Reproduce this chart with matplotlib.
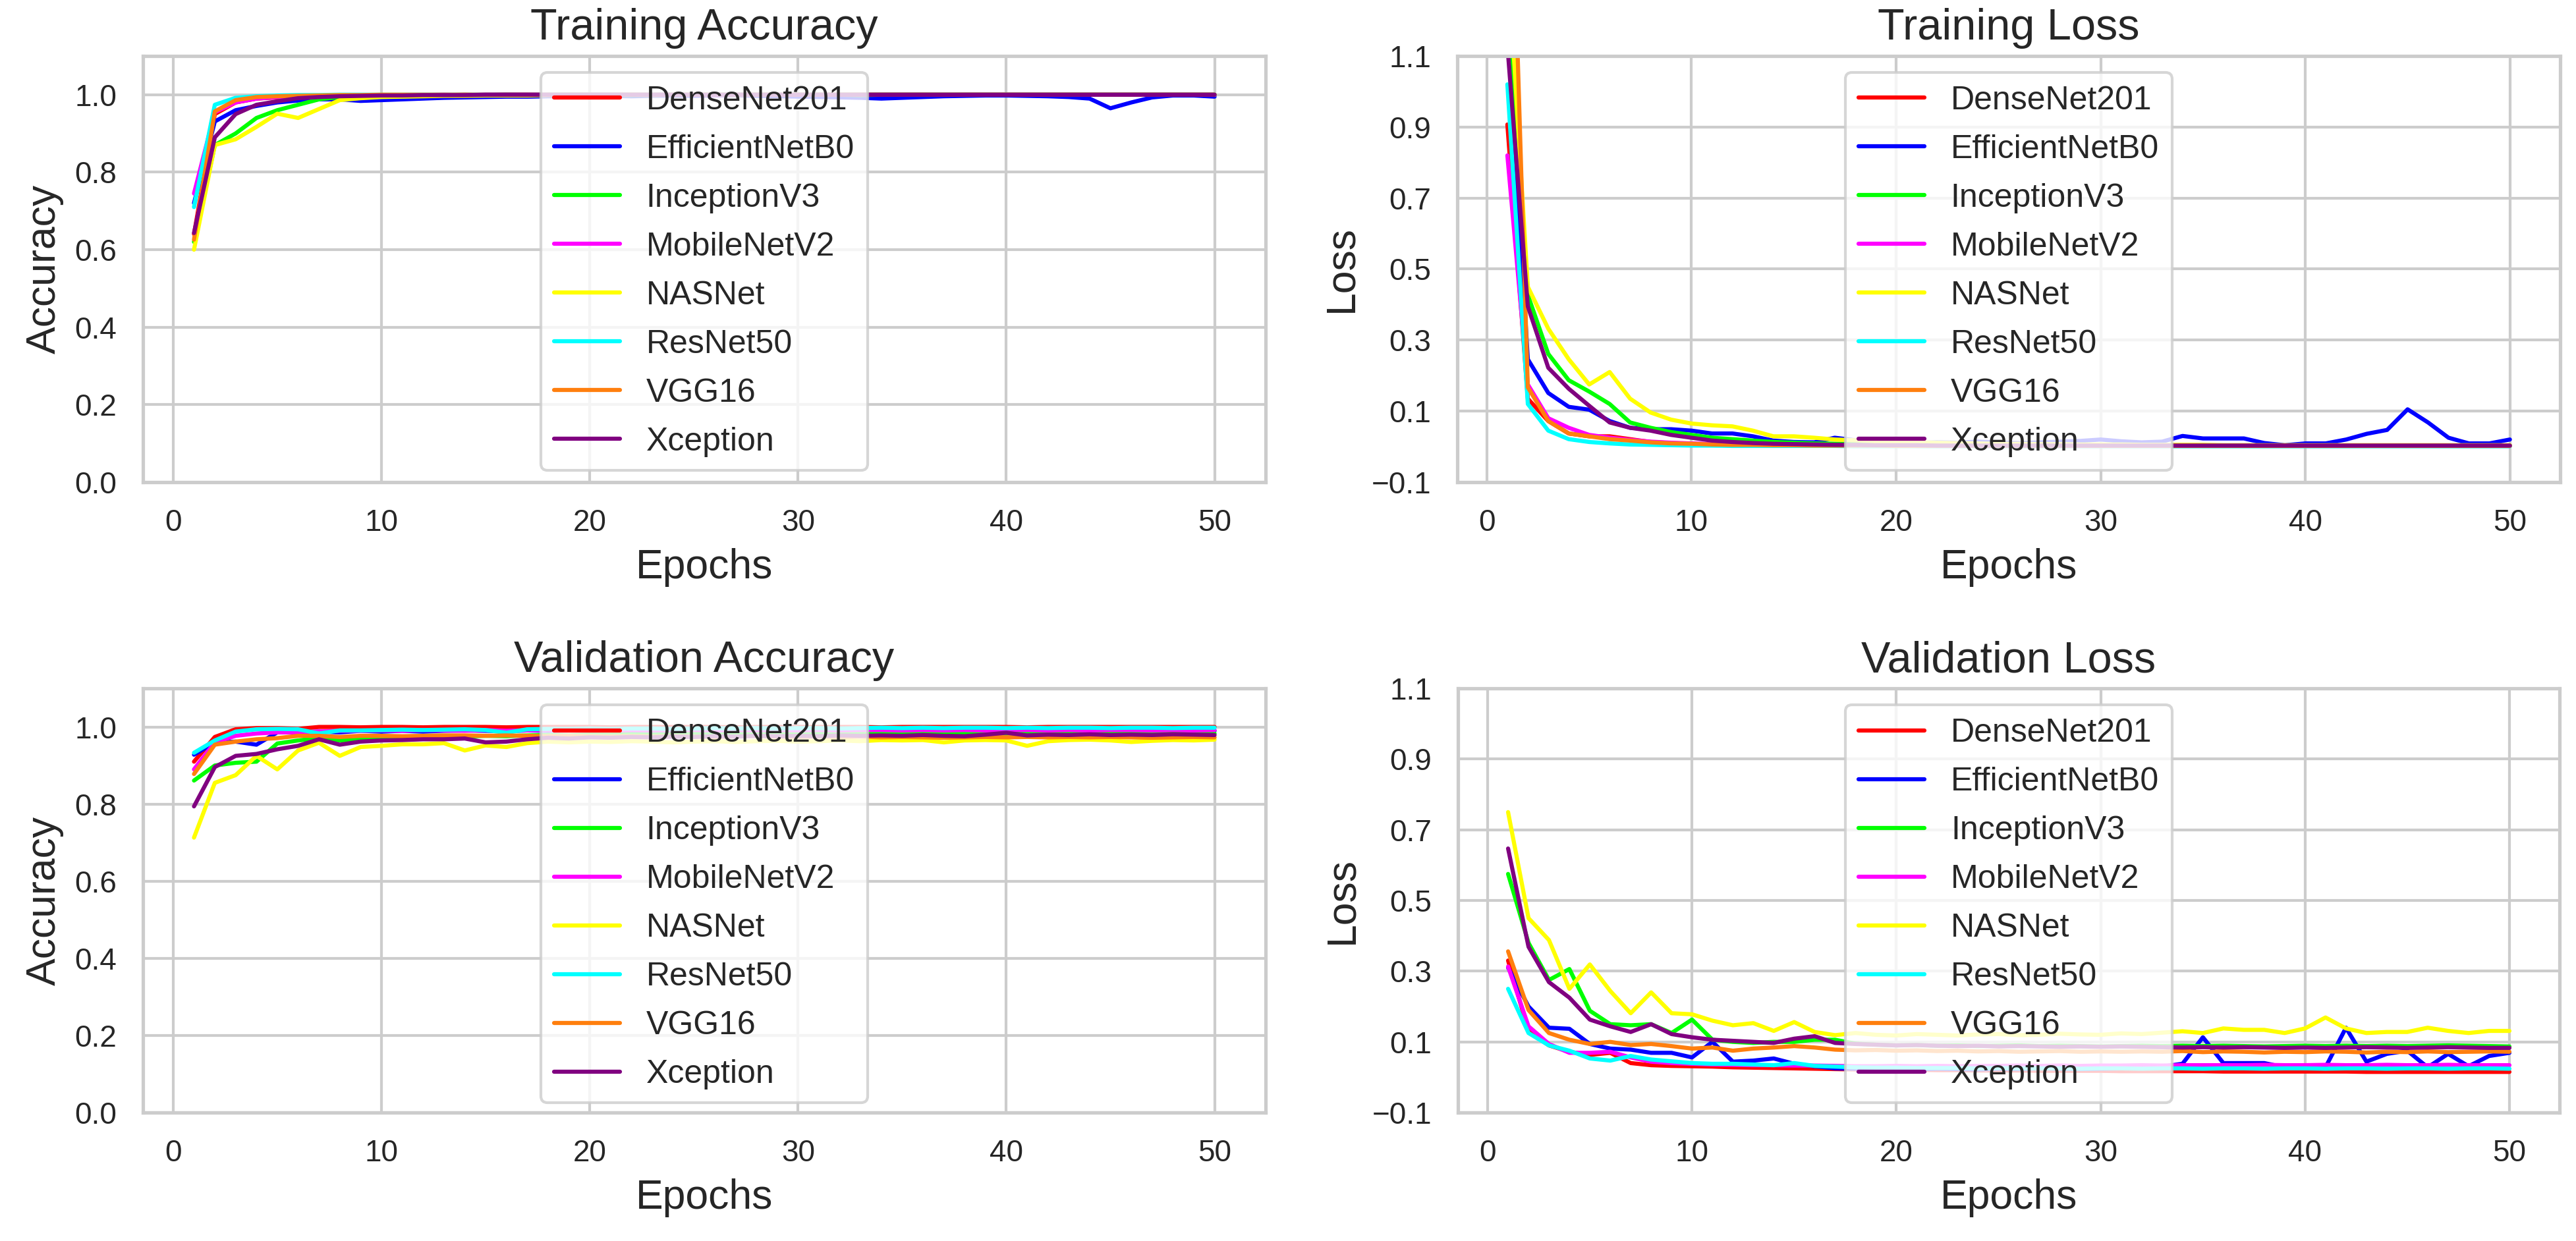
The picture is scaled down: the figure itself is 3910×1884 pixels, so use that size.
# [1] 라이브러리
import matplotlib
matplotlib.use('Agg')
import matplotlib.pyplot as plt
import seaborn as sns

# [2] 데이터 : 8개 모델 , 50 epoch
epochs = list(range(1, 51))
models = ['DenseNet201', 'EfficientNetB0', 'InceptionV3', 'MobileNetV2',
          'NASNet', 'ResNet50', 'VGG16', 'Xception']
colors = ['#ff0000', '#0000ff', '#00ff00', '#ff00ff',
          '#ffff00', '#00ffff', '#ff7f0e', '#800080']

# Training Accuracy
ta_densenet = [0.640, 0.950, 0.980, 0.990, 0.993, 0.995, 0.996, 0.997, 0.998, 0.998,
               0.999, 0.999, 0.999, 1.000, 0.999, 1.000, 1.000, 0.999, 1.000, 1.000,
               1.000, 1.000, 0.999, 1.000, 1.000, 1.000, 1.000, 1.000, 0.999, 1.000,
               1.000, 1.000, 1.000, 1.000, 1.000, 1.000, 0.999, 1.000, 1.000, 1.000,
               1.000, 1.000, 1.000, 1.000, 1.000, 1.000, 1.000, 1.000, 1.000, 1.000]
ta_effnet = [0.720, 0.931, 0.960, 0.971, 0.980, 0.985, 0.988, 0.988, 0.984, 0.986,
             0.988, 0.990, 0.992, 0.993, 0.994, 0.995, 0.995, 0.996, 0.996, 0.997,
             0.997, 0.996, 0.997, 0.998, 0.997, 0.998, 0.998, 0.997, 0.996, 0.995,
             0.994, 0.993, 0.992, 0.990, 0.992, 0.994, 0.996, 0.997, 0.998, 0.998,
             0.997, 0.996, 0.994, 0.990, 0.965, 0.980, 0.993, 0.998, 0.998, 0.995]
ta_inception = [0.620, 0.870, 0.900, 0.940, 0.960, 0.974, 0.988, 0.994, 0.996, 0.997,
                0.998, 0.998, 0.999, 0.999, 0.999, 1.000, 0.999, 1.000, 1.000, 1.000,
                1.000, 0.999, 1.000, 1.000, 1.000, 1.000, 1.000, 1.000, 1.000, 1.000,
                1.000, 1.000, 0.999, 1.000, 1.000, 1.000, 1.000, 1.000, 1.000, 1.000,
                1.000, 1.000, 1.000, 1.000, 1.000, 1.000, 1.000, 1.000, 1.000, 1.000]
ta_mobilenet = [0.745, 0.955, 0.980, 0.990, 0.994, 0.996, 0.997, 0.998, 0.998, 0.999,
                0.999, 0.999, 1.000, 0.999, 1.000, 1.000, 1.000, 1.000, 0.999, 1.000,
                1.000, 1.000, 1.000, 1.000, 1.000, 0.999, 1.000, 1.000, 1.000, 1.000,
                1.000, 1.000, 1.000, 1.000, 1.000, 1.000, 1.000, 1.000, 1.000, 1.000,
                1.000, 1.000, 1.000, 1.000, 1.000, 1.000, 1.000, 1.000, 1.000, 1.000]
ta_nasnet = [0.600, 0.870, 0.885, 0.917, 0.951, 0.940, 0.963, 0.986, 0.991, 0.994,
             0.995, 0.996, 0.997, 0.997, 0.998, 0.998, 0.998, 0.999, 0.999, 0.999,
             0.999, 1.000, 0.999, 1.000, 1.000, 1.000, 0.999, 1.000, 1.000, 1.000,
             1.000, 1.000, 1.000, 1.000, 1.000, 1.000, 1.000, 1.000, 1.000, 1.000,
             1.000, 1.000, 1.000, 1.000, 1.000, 1.000, 1.000, 1.000, 1.000, 1.000]
ta_resnet = [0.710, 0.974, 0.992, 0.996, 0.998, 0.999, 0.999, 1.000, 1.000, 1.000,
             1.000, 1.000, 1.000, 1.000, 1.000, 1.000, 1.000, 1.000, 1.000, 1.000,
             1.000, 1.000, 1.000, 1.000, 1.000, 1.000, 1.000, 1.000, 1.000, 1.000,
             1.000, 1.000, 1.000, 1.000, 1.000, 1.000, 1.000, 1.000, 1.000, 1.000,
             1.000, 1.000, 1.000, 1.000, 1.000, 1.000, 1.000, 1.000, 1.000, 1.000]
ta_vgg = [0.626, 0.957, 0.986, 0.994, 0.996, 0.997, 0.998, 0.999, 0.999, 1.000,
          1.000, 1.000, 1.000, 1.000, 1.000, 1.000, 1.000, 1.000, 1.000, 1.000,
          1.000, 1.000, 1.000, 1.000, 1.000, 1.000, 1.000, 1.000, 1.000, 1.000,
          1.000, 1.000, 1.000, 1.000, 1.000, 1.000, 1.000, 1.000, 1.000, 1.000,
          1.000, 1.000, 1.000, 1.000, 1.000, 1.000, 1.000, 1.000, 1.000, 1.000]
ta_xception = [0.643, 0.890, 0.950, 0.974, 0.983, 0.991, 0.994, 0.996, 0.997, 0.998,
               0.998, 0.999, 0.999, 0.999, 1.000, 1.000, 1.000, 1.000, 1.000, 1.000,
               1.000, 1.000, 1.000, 1.000, 1.000, 1.000, 1.000, 1.000, 1.000, 1.000,
               1.000, 1.000, 1.000, 1.000, 1.000, 1.000, 1.000, 1.000, 1.000, 1.000,
               1.000, 1.000, 1.000, 1.000, 1.000, 1.000, 1.000, 1.000, 1.000, 1.000]

# Training Loss
tl_densenet = [0.907, 0.135, 0.072, 0.037, 0.029, 0.029, 0.021, 0.013, 0.010, 0.008,
               0.007, 0.006, 0.005, 0.005, 0.004, 0.004, 0.003, 0.003, 0.003, 0.003,
               0.003, 0.002, 0.002, 0.002, 0.002, 0.002, 0.002, 0.002, 0.002, 0.002,
               0.002, 0.002, 0.002, 0.002, 0.002, 0.002, 0.002, 0.002, 0.002, 0.002,
               0.002, 0.002, 0.002, 0.002, 0.002, 0.002, 0.002, 0.002, 0.002, 0.002]
tl_effnet = [1.200, 0.246, 0.151, 0.112, 0.104, 0.072, 0.053, 0.049, 0.049, 0.045,
             0.037, 0.037, 0.029, 0.017, 0.013, 0.012, 0.025, 0.018, 0.012, 0.010,
             0.010, 0.012, 0.011, 0.014, 0.012, 0.010, 0.012, 0.014, 0.016, 0.020,
             0.015, 0.012, 0.014, 0.030, 0.023, 0.023, 0.023, 0.010, 0.004, 0.009,
             0.009, 0.020, 0.036, 0.047, 0.105, 0.068, 0.025, 0.009, 0.009, 0.020]
tl_inception = [1.310, 0.427, 0.261, 0.187, 0.155, 0.120, 0.068, 0.053, 0.041, 0.033,
                0.025, 0.021, 0.017, 0.013, 0.011, 0.009, 0.008, 0.007, 0.006, 0.006,
                0.005, 0.005, 0.005, 0.004, 0.004, 0.004, 0.004, 0.004, 0.003, 0.003,
                0.003, 0.003, 0.003, 0.003, 0.003, 0.003, 0.003, 0.003, 0.003, 0.003,
                0.003, 0.003, 0.003, 0.003, 0.003, 0.003, 0.003, 0.003, 0.003, 0.003]
tl_mobilenet = [0.820, 0.175, 0.080, 0.053, 0.033, 0.025, 0.019, 0.014, 0.011, 0.009,
                0.007, 0.006, 0.005, 0.005, 0.004, 0.004, 0.003, 0.003, 0.003, 0.003,
                0.002, 0.002, 0.002, 0.002, 0.002, 0.002, 0.002, 0.002, 0.002, 0.002,
                0.002, 0.002, 0.002, 0.002, 0.002, 0.002, 0.002, 0.002, 0.002, 0.002,
                0.002, 0.002, 0.002, 0.002, 0.002, 0.002, 0.002, 0.002, 0.002, 0.002]
tl_nasnet = [1.400, 0.450, 0.332, 0.246, 0.175, 0.210, 0.135, 0.096, 0.076, 0.065,
             0.060, 0.057, 0.045, 0.029, 0.029, 0.025, 0.020, 0.018, 0.015, 0.014,
             0.012, 0.011, 0.010, 0.009, 0.008, 0.008, 0.007, 0.007, 0.006, 0.006,
             0.006, 0.005, 0.005, 0.005, 0.005, 0.004, 0.004, 0.004, 0.004, 0.004,
             0.004, 0.004, 0.004, 0.004, 0.004, 0.004, 0.004, 0.004, 0.004, 0.004]
tl_resnet = [1.020, 0.120, 0.045, 0.021, 0.013, 0.009, 0.006, 0.005, 0.004, 0.003,
             0.003, 0.002, 0.002, 0.002, 0.002, 0.002, 0.002, 0.001, 0.001, 0.001,
             0.001, 0.001, 0.001, 0.001, 0.001, 0.001, 0.001, 0.001, 0.001, 0.001,
             0.001, 0.001, 0.001, 0.001, 0.001, 0.001, 0.001, 0.001, 0.001, 0.001,
             0.001, 0.001, 0.001, 0.001, 0.001, 0.001, 0.001, 0.001, 0.001, 0.001]
tl_vgg = [2.050, 0.167, 0.072, 0.037, 0.029, 0.021, 0.017, 0.012, 0.009, 0.008,
          0.006, 0.005, 0.005, 0.004, 0.004, 0.003, 0.003, 0.003, 0.003, 0.002,
          0.002, 0.002, 0.002, 0.002, 0.002, 0.002, 0.002, 0.002, 0.002, 0.002,
          0.002, 0.002, 0.002, 0.002, 0.002, 0.002, 0.002, 0.002, 0.002, 0.002,
          0.002, 0.002, 0.002, 0.002, 0.002, 0.002, 0.002, 0.002, 0.002, 0.002]
tl_xception = [1.130, 0.395, 0.222, 0.163, 0.115, 0.068, 0.053, 0.045, 0.033, 0.025,
               0.017, 0.013, 0.010, 0.008, 0.007, 0.006, 0.005, 0.005, 0.004, 0.004,
               0.004, 0.003, 0.003, 0.003, 0.003, 0.003, 0.003, 0.003, 0.003, 0.003,
               0.003, 0.003, 0.003, 0.003, 0.003, 0.003, 0.003, 0.003, 0.003, 0.003,
               0.003, 0.003, 0.003, 0.003, 0.003, 0.003, 0.003, 0.003, 0.003, 0.003]

# Validation Accuracy
va_densenet = [0.910, 0.974, 0.994, 0.997, 0.997, 0.995, 1.000, 1.000, 0.999, 1.000,
               1.000, 0.999, 1.000, 1.000, 1.000, 0.999, 1.000, 1.000, 1.000, 1.000,
               0.999, 1.000, 1.000, 1.000, 1.000, 1.000, 0.999, 1.000, 1.000, 1.000,
               1.000, 1.000, 1.000, 0.999, 1.000, 1.000, 1.000, 1.000, 1.000, 1.000,
               0.999, 1.000, 1.000, 1.000, 1.000, 1.000, 1.000, 1.000, 1.000, 1.000]
va_effnet = [0.928, 0.960, 0.962, 0.954, 0.986, 0.986, 0.988, 0.986, 0.990, 0.988,
             0.990, 0.988, 0.990, 0.991, 0.990, 0.989, 0.991, 0.990, 0.991, 0.990,
             0.991, 0.990, 0.989, 0.990, 0.991, 0.990, 0.991, 0.990, 0.989, 0.990,
             0.991, 0.990, 0.990, 0.991, 0.990, 0.991, 0.990, 0.989, 0.990, 0.991,
             0.990, 0.991, 0.990, 0.990, 0.991, 0.990, 0.989, 0.990, 0.991, 0.990]
va_inception = [0.861, 0.900, 0.907, 0.910, 0.957, 0.965, 0.971, 0.965, 0.968, 0.971,
                0.974, 0.975, 0.976, 0.975, 0.977, 0.976, 0.978, 0.979, 0.978, 0.980,
                0.980, 0.981, 0.980, 0.981, 0.982, 0.981, 0.982, 0.982, 0.983, 0.982,
                0.983, 0.982, 0.983, 0.984, 0.983, 0.983, 0.984, 0.983, 0.984, 0.983,
                0.984, 0.983, 0.984, 0.984, 0.983, 0.984, 0.983, 0.984, 0.984, 0.983]
va_mobilenet = [0.890, 0.960, 0.977, 0.983, 0.986, 0.986, 0.988, 0.990, 0.990, 0.991,
                0.990, 0.992, 0.991, 0.990, 0.992, 0.990, 0.991, 0.992, 0.991, 0.992,
                0.991, 0.992, 0.991, 0.992, 0.992, 0.991, 0.992, 0.991, 0.992, 0.991,
                0.992, 0.991, 0.992, 0.992, 0.991, 0.992, 0.991, 0.992, 0.991, 0.992,
                0.992, 0.991, 0.992, 0.991, 0.992, 0.992, 0.991, 0.992, 0.991, 0.992]
va_nasnet = [0.713, 0.855, 0.875, 0.925, 0.890, 0.939, 0.959, 0.925, 0.948, 0.951,
             0.955, 0.955, 0.958, 0.939, 0.952, 0.948, 0.958, 0.962, 0.960, 0.962,
             0.961, 0.963, 0.962, 0.960, 0.962, 0.963, 0.961, 0.963, 0.964, 0.962,
             0.963, 0.965, 0.963, 0.966, 0.965, 0.966, 0.960, 0.965, 0.966, 0.965,
             0.951, 0.963, 0.966, 0.967, 0.965, 0.961, 0.964, 0.966, 0.965, 0.967]
va_resnet = [0.933, 0.965, 0.988, 0.994, 0.995, 0.994, 0.983, 0.991, 0.991, 0.992,
             0.993, 0.992, 0.993, 0.994, 0.992, 0.985, 0.994, 0.995, 0.995, 0.996,
             0.995, 0.996, 0.996, 0.995, 0.996, 0.997, 0.996, 0.997, 0.996, 0.997,
             0.997, 0.996, 0.997, 0.998, 0.997, 0.998, 0.997, 0.998, 0.998, 0.997,
             0.998, 0.997, 0.998, 0.998, 0.997, 0.998, 0.998, 0.997, 0.998, 0.998]
va_vgg = [0.878, 0.954, 0.962, 0.968, 0.971, 0.977, 0.977, 0.974, 0.977, 0.977,
          0.976, 0.977, 0.978, 0.978, 0.977, 0.978, 0.977, 0.976, 0.977, 0.976,
          0.975, 0.976, 0.975, 0.976, 0.975, 0.974, 0.975, 0.976, 0.975, 0.974,
          0.975, 0.974, 0.975, 0.973, 0.974, 0.973, 0.972, 0.973, 0.974, 0.973,
          0.974, 0.973, 0.974, 0.973, 0.974, 0.973, 0.972, 0.973, 0.974, 0.973]
va_xception = [0.794, 0.896, 0.925, 0.930, 0.942, 0.951, 0.968, 0.954, 0.962, 0.965,
               0.966, 0.968, 0.968, 0.970, 0.960, 0.962, 0.968, 0.972, 0.970, 0.973,
               0.972, 0.974, 0.973, 0.975, 0.974, 0.976, 0.975, 0.977, 0.976, 0.977,
               0.976, 0.978, 0.977, 0.978, 0.977, 0.979, 0.977, 0.976, 0.980, 0.985,
               0.978, 0.980, 0.979, 0.981, 0.979, 0.980, 0.979, 0.981, 0.980, 0.979]

# Validation Loss
vl_densenet = [0.330, 0.130, 0.090, 0.072, 0.063, 0.069, 0.040, 0.034, 0.032, 0.031,
               0.030, 0.028, 0.027, 0.026, 0.025, 0.024, 0.023, 0.022, 0.022, 0.021,
               0.021, 0.020, 0.020, 0.019, 0.019, 0.019, 0.018, 0.018, 0.018, 0.018,
               0.017, 0.017, 0.017, 0.017, 0.017, 0.016, 0.016, 0.016, 0.016, 0.016,
               0.016, 0.016, 0.015, 0.015, 0.015, 0.015, 0.015, 0.015, 0.015, 0.015]
vl_effnet = [0.310, 0.200, 0.140, 0.137, 0.094, 0.081, 0.078, 0.069, 0.069, 0.056,
             0.100, 0.044, 0.047, 0.053, 0.038, 0.031, 0.025, 0.024, 0.025, 0.023,
             0.022, 0.024, 0.023, 0.022, 0.024, 0.023, 0.025, 0.024, 0.023, 0.024,
             0.025, 0.026, 0.030, 0.038, 0.113, 0.040, 0.040, 0.040, 0.028, 0.028,
             0.028, 0.140, 0.044, 0.066, 0.075, 0.028, 0.066, 0.031, 0.060, 0.069]
vl_inception = [0.575, 0.380, 0.275, 0.306, 0.188, 0.150, 0.147, 0.150, 0.125, 0.163,
                0.106, 0.100, 0.097, 0.100, 0.100, 0.106, 0.106, 0.095, 0.092, 0.090,
                0.091, 0.089, 0.090, 0.088, 0.089, 0.090, 0.088, 0.089, 0.088, 0.087,
                0.088, 0.089, 0.088, 0.089, 0.088, 0.089, 0.088, 0.087, 0.088, 0.089,
                0.088, 0.089, 0.088, 0.089, 0.088, 0.089, 0.090, 0.089, 0.088, 0.087]
vl_mobilenet = [0.313, 0.144, 0.094, 0.069, 0.069, 0.072, 0.056, 0.044, 0.040, 0.038,
                0.036, 0.035, 0.034, 0.034, 0.033, 0.033, 0.032, 0.031, 0.031, 0.032,
                0.031, 0.032, 0.031, 0.032, 0.032, 0.033, 0.032, 0.033, 0.032, 0.033,
                0.033, 0.034, 0.033, 0.034, 0.034, 0.034, 0.034, 0.035, 0.034, 0.034,
                0.035, 0.034, 0.034, 0.035, 0.034, 0.034, 0.035, 0.034, 0.034, 0.034]
vl_nasnet = [0.750, 0.450, 0.388, 0.250, 0.319, 0.244, 0.181, 0.240, 0.181, 0.178,
             0.160, 0.147, 0.153, 0.131, 0.156, 0.128, 0.119, 0.125, 0.120, 0.118,
             0.122, 0.120, 0.118, 0.121, 0.122, 0.119, 0.120, 0.123, 0.121, 0.120,
             0.124, 0.122, 0.126, 0.130, 0.125, 0.138, 0.134, 0.134, 0.125, 0.138,
             0.169, 0.138, 0.125, 0.128, 0.128, 0.140, 0.131, 0.125, 0.131, 0.131]
vl_resnet = [0.250, 0.125, 0.090, 0.075, 0.053, 0.047, 0.060, 0.050, 0.045, 0.040,
             0.038, 0.038, 0.036, 0.034, 0.040, 0.032, 0.030, 0.028, 0.027, 0.027,
             0.026, 0.026, 0.026, 0.025, 0.026, 0.025, 0.025, 0.025, 0.024, 0.025,
             0.025, 0.024, 0.025, 0.025, 0.024, 0.025, 0.025, 0.024, 0.025, 0.025,
             0.024, 0.025, 0.025, 0.024, 0.025, 0.025, 0.024, 0.025, 0.025, 0.024]
vl_vgg = [0.356, 0.190, 0.125, 0.106, 0.094, 0.100, 0.091, 0.094, 0.088, 0.081,
          0.084, 0.075, 0.081, 0.084, 0.088, 0.084, 0.078, 0.076, 0.077, 0.075,
          0.076, 0.074, 0.075, 0.073, 0.074, 0.072, 0.073, 0.074, 0.072, 0.073,
          0.072, 0.073, 0.072, 0.074, 0.071, 0.073, 0.072, 0.070, 0.072, 0.071,
          0.073, 0.072, 0.070, 0.072, 0.071, 0.073, 0.071, 0.072, 0.073, 0.072]
vl_xception = [0.647, 0.369, 0.269, 0.225, 0.163, 0.144, 0.128, 0.150, 0.122, 0.113,
               0.106, 0.103, 0.100, 0.097, 0.109, 0.116, 0.097, 0.094, 0.092, 0.090,
               0.091, 0.089, 0.088, 0.089, 0.087, 0.088, 0.087, 0.086, 0.087, 0.086,
               0.087, 0.086, 0.085, 0.084, 0.085, 0.084, 0.085, 0.084, 0.083, 0.084,
               0.083, 0.084, 0.085, 0.084, 0.083, 0.084, 0.085, 0.084, 0.083, 0.083]

train_acc = [ta_densenet, ta_effnet, ta_inception, ta_mobilenet, ta_nasnet, ta_resnet, ta_vgg, ta_xception]
train_loss = [tl_densenet, tl_effnet, tl_inception, tl_mobilenet, tl_nasnet, tl_resnet, tl_vgg, tl_xception]
val_acc = [va_densenet, va_effnet, va_inception, va_mobilenet, va_nasnet, va_resnet, va_vgg, va_xception]
val_loss = [vl_densenet, vl_effnet, vl_inception, vl_mobilenet, vl_nasnet, vl_resnet, vl_vgg, vl_xception]

acc_ticks = [0.0, 0.2, 0.4, 0.6, 0.8, 1.0]
loss_ticks = [-0.1, 0.1, 0.3, 0.5, 0.7, 0.9, 1.1]

# [3] 스타일
sns.set_theme(style='whitegrid')
plt.rcParams['font.family'] = ['Liberation Sans', 'DejaVu Sans']

fig = plt.figure(figsize=(3910 / 300, 1884 / 300), dpi=300)

# (데이터, 제목, y라벨, y범위, y눈금, 축 위치)
panels = [
    (train_acc, 'Training Accuracy', 'Accuracy', (0, 1.1), acc_ticks, [0.0555, 0.6115, 0.4358, 0.3434]),
    (train_loss, 'Training Loss', 'Loss', (-0.1, 1.1), loss_ticks, [0.5657, 0.6115, 0.4281, 0.3434]),
    (val_acc, 'Validation Accuracy', 'Accuracy', (0, 1.1), acc_ticks, [0.0555, 0.1035, 0.4358, 0.3418]),
    (val_loss, 'Validation Loss', 'Loss', (-0.1, 1.1), loss_ticks, [0.5660, 0.1035, 0.4276, 0.3418]),
]

# [4] 4개 차트 그리기
for series, title, ylabel, ylim, yticks, pos in panels:
    ax = fig.add_axes(pos)
    for name, color, values in zip(models, colors, series):
        ax.plot(epochs, values, color=color, linewidth=1.5, label=name)
    ax.set_ylim(*ylim)
    ax.set_yticks(yticks)
    ax.set_xticks([0, 10, 20, 30, 40, 50])
    ax.tick_params(labelsize=11)
    ax.set_title(title, fontsize=16)
    ax.set_xlabel('Epochs', fontsize=15)
    ax.set_ylabel(ylabel, fontsize=15)
    ax.legend(loc='upper center', fontsize=12, labelspacing=0.56)

fig.savefig('out.png', dpi=300)
